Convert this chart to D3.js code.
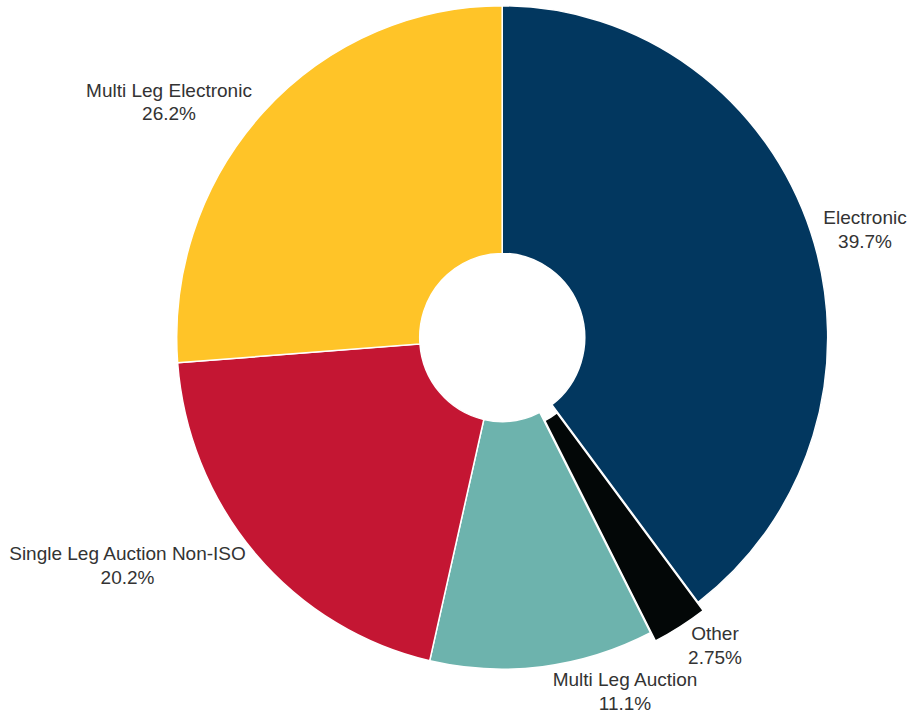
<!DOCTYPE html>
<html>
<head>
<meta charset="utf-8">
<script src="https://cdn.jsdelivr.net/npm/d3@7/dist/d3.min.js"></script>
<style>
  html, body { margin: 0; padding: 0; background: #ffffff; }
  svg { display: block; }
  text { font-family: "Liberation Sans", Arial, sans-serif; }
</style>
</head>
<body>
<svg id="chart" width="911" height="712"></svg>
<script>
// ---- data ----
const categories = ["Electronic", "Other", "Multi Leg Auction", "Single Leg Auction Non-ISO", "Multi Leg Electronic"];
const values = [39.7, 2.75, 11.1, 20.2, 26.2];
const valueLabels = ["39.7%", "2.75%", "11.1%", "20.2%", "26.2%"];
const colors = ["#02375F", "#030707", "#6DB3AD", "#C41633", "#FFC428"];
const exploded = ["Other"];

// ---- layout ----
const W = 911, H = 712;
const cx = 502.2, cy = 337.5;
const outerR = 325.5, innerR = 82.5;
const yStretch = 1.019;
const explodeDist = 9.5;
// label centres (x) and first-line baselines (y)
const labelLayout = {
  "Electronic": [865, 224],
  "Other": [715, 640],
  "Multi Leg Auction": [625, 686],
  "Single Leg Auction Non-ISO": [127.5, 560],
  "Multi Leg Electronic": [169, 96.5]
};
const lineGap = 23.5;

const svg = d3.select("#chart");

const data = categories.map((c, i) => ({ name: c, value: values[i], label: valueLabels[i], color: colors[i] }));

const pie = d3.pie().sort(null).value(d => d.value).startAngle(0).endAngle(2 * Math.PI);
const arc = d3.arc().innerRadius(innerR).outerRadius(outerR);

const g = svg.append("g")
  .attr("transform", `translate(${cx},${cy}) scale(1,${yStretch})`);

g.selectAll("path.slice")
  .data(pie(data))
  .join("path")
  .attr("class", "slice")
  .attr("d", arc)
  .attr("fill", d => d.data.color)
  .attr("stroke", "#ffffff")
  .attr("stroke-width", 1.5)
  .attr("vector-effect", "non-scaling-stroke")
  .attr("transform", d => {
    if (!exploded.includes(d.data.name)) return null;
    const a = (d.startAngle + d.endAngle) / 2;
    return `translate(${explodeDist * Math.sin(a)},${-explodeDist * Math.cos(a)})`;
  });

const lg = svg.append("g");
data.forEach(d => {
  const [x, y] = labelLayout[d.name];
  const t = lg.append("text")
    .attr("x", x).attr("y", y)
    .attr("text-anchor", "middle")
    .attr("fill", "#333333")
    .style("font-size", "19px");
  t.append("tspan").attr("x", x).attr("y", y).text(d.name);
  t.append("tspan").attr("x", x).attr("y", y + lineGap).text(d.label);
});
</script>
</body>
</html>
